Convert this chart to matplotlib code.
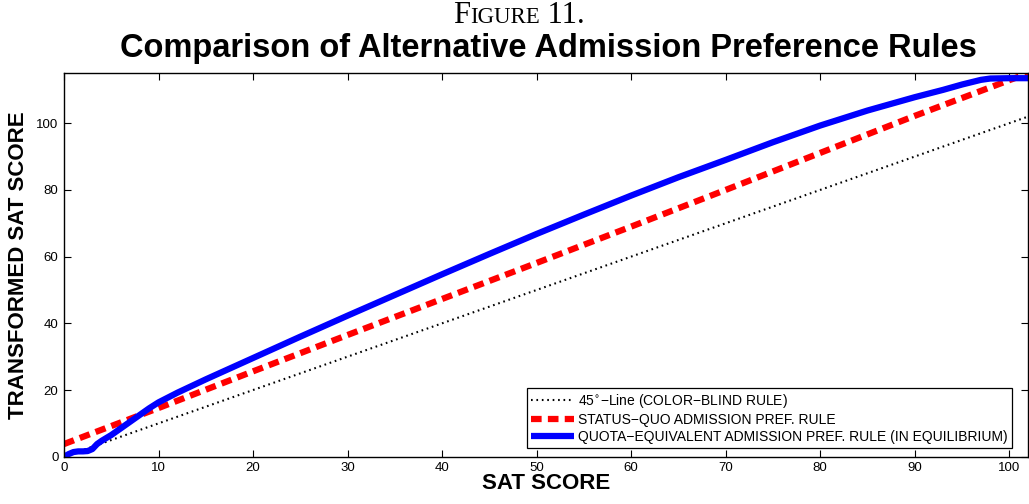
import matplotlib
matplotlib.use("Agg")
import matplotlib.pyplot as plt

# SAT score axis and the three transformation rules
x_line45 = [0, 102]
y_line45 = [0, 102]

x_status = [0, 10, 20, 30, 40, 50, 60, 70, 80, 90, 100, 102]
y_status = [3.8, 14.6, 25.6, 36.5, 47.3, 58.1, 69.0, 80.0, 91.1, 102.2, 112.9, 115.0]

x_quota = [0, 0.5, 1, 1.5, 2, 2.5, 3, 3.5, 4, 5, 6, 7, 8, 9, 10, 12, 15, 20, 25, 30,
           35, 40, 45, 50, 55, 60, 65, 70, 75, 80, 85, 90, 93, 95, 97, 98, 100, 102]
y_quota = [0, 0.8, 1.4, 1.6, 1.6, 1.7, 2.3, 3.8, 4.8, 6.5, 8.5, 10.5, 12.5, 14.5, 16.3,
           19.2, 23.2, 29.6, 36.0, 42.3, 48.5, 54.7, 60.8, 66.8, 72.6, 78.3, 83.8, 89.0,
           94.3, 99.3, 103.8, 107.8, 110.0, 111.6, 113.0, 113.4, 113.5, 113.5]

labels = ["45$^{\\circ}$\u2212Line (COLOR\u2212BLIND RULE)",
          "STATUS\u2212QUO ADMISSION PREF. RULE",
          "QUOTA\u2212EQUIVALENT ADMISSION PREF. RULE (IN EQUILIBRIUM)"]

x_ticks = list(range(0, 101, 10))
y_ticks = list(range(0, 101, 20))

plt.rcParams['font.family'] = ['Liberation Sans', 'DejaVu Sans']

fig = plt.figure(figsize=(10.29, 5.04), dpi=100)
ax = fig.add_axes([0.0622, 0.0938, 0.937, 0.761])

ax.plot(x_line45, y_line45, color='black', linestyle=(0, (0.8, 1.8)), linewidth=1.5, label=labels[0])
ax.plot(x_status, y_status, color='#ff0000', linestyle=(0, (1.7, 1.0)), linewidth=4.5, label=labels[1])
ax.plot(x_quota, y_quota, color='#0000ff', linestyle='-', linewidth=4.5, label=labels[2],
        solid_capstyle='butt')

ax.set_xlim(0, 102)
ax.set_ylim(0, 115)
ax.set_xticks(x_ticks)
ax.set_yticks(y_ticks)
ax.tick_params(direction='in', length=5, width=0.8, top=True, right=True, labelsize=9.5, pad=4)
for s in ax.spines.values():
    s.set_linewidth(1.0)

ax.set_xlabel("SAT SCORE", fontsize=16, fontweight='bold', labelpad=-1)
ax.set_ylabel("TRANSFORMED SAT SCORE", fontsize=16, fontweight='bold', labelpad=5)

leg = ax.legend(loc='lower right', bbox_to_anchor=(0.983, 0.023), borderaxespad=0,
                fontsize=10, fancybox=False, edgecolor='black', framealpha=1,
                handlelength=3.1, handletextpad=0.3, labelspacing=0.2, borderpad=0.3)
leg.get_frame().set_linewidth(0.9)

fig.text(548 / 1029, 0.887, "Comparison of Alternative Admission Preference Rules",
         ha='center', va='baseline', fontsize=23.5, fontweight='bold')

# small caps "FIGURE 11." built from pieces
parts = [("F", 22), ("IGURE", 16.5), (" 11.", 22)]
texts = [fig.text(0, 0.955, p, fontsize=sz, family='Liberation Serif', va='baseline')
         for p, sz in parts]
fig.canvas.draw()
r = fig.canvas.get_renderer()
widths = [t.get_window_extent(r).width for t in texts]
total = sum(widths)
x0 = 519 - total / 2
for t, w in zip(texts, widths):
    t.set_x(x0 / fig.bbox.width)
    x0 += w

fig.savefig("out.png", dpi=100)
